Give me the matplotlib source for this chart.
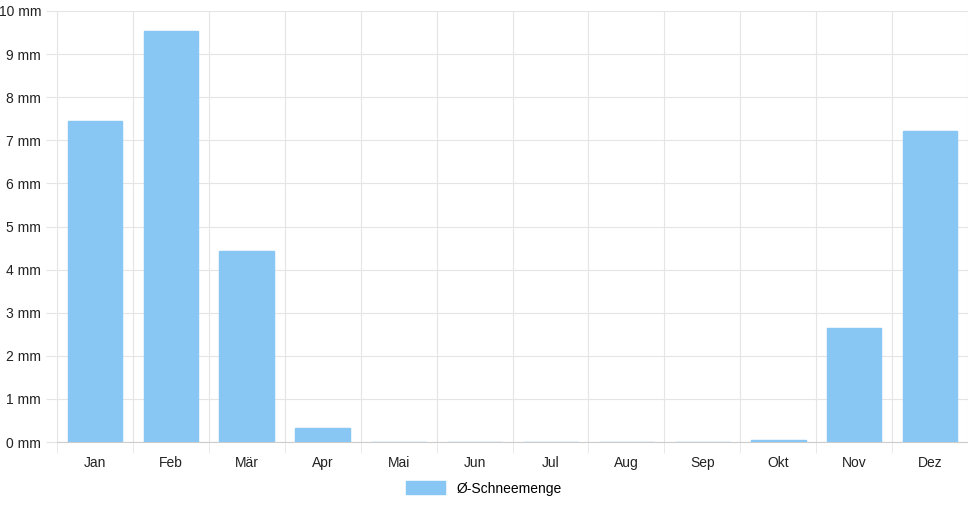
import matplotlib.pyplot as plt
import numpy as np

months = ['Jan', 'Feb', 'Mär', 'Apr', 'Mai', 'Jun', 'Jul', 'Aug', 'Sep', 'Okt', 'Nov', 'Dez']
snow = [7.45, 9.54, 4.43, 0.33, 0, 0, 0, 0, 0, 0.05, 2.65, 7.22]
yticks = list(range(0, 11))

plt.rcParams['font.family'] = ['Liberation Sans', 'DejaVu Sans']
fig = plt.figure(figsize=(9.68, 5.08), dpi=100)
ax = fig.add_axes([57/968, 66/508, 911/968, 431/508])

x = np.arange(len(months))
ax.bar(x, snow, width=0.72, color='#88c6f3', edgecolor='#88c6f3', zorder=3,
       label='Ø-Schneemenge')

ax.set_xlim(-0.5, len(months) - 0.5)
ax.set_ylim(0, 10)
ax.set_yticks(yticks)
ax.set_yticklabels([f'{v} mm' for v in yticks])
ax.set_xticks(x)
ax.set_xticklabels(months)
ax.set_xticks(np.arange(-0.5, len(months)), minor=True)
ax.grid(True, which='major', axis='y', color='#e5e5e5', lw=0.8, zorder=0)
ax.grid(True, which='minor', axis='x', color='#e5e5e5', lw=0.8, zorder=0)
ax.tick_params(axis='x', which='major', length=0, pad=10, labelsize=10, colors='#222')
ax.tick_params(axis='x', which='minor', length=8, color='#e5e5e5')
ax.tick_params(axis='y', length=8, color='#e5e5e5', labelsize=10, colors='#222')
for s in ['top', 'right']:
    ax.spines[s].set_visible(False)
ax.spines['left'].set_color('#e5e5e5')
ax.spines['bottom'].set_color('#cccccc')

fig.legend(loc='lower center', bbox_to_anchor=(0.5, 0.0), frameon=False,
           fontsize=10, handlelength=2.8, handleheight=1.1)
plt.savefig('out.png', dpi=100)
